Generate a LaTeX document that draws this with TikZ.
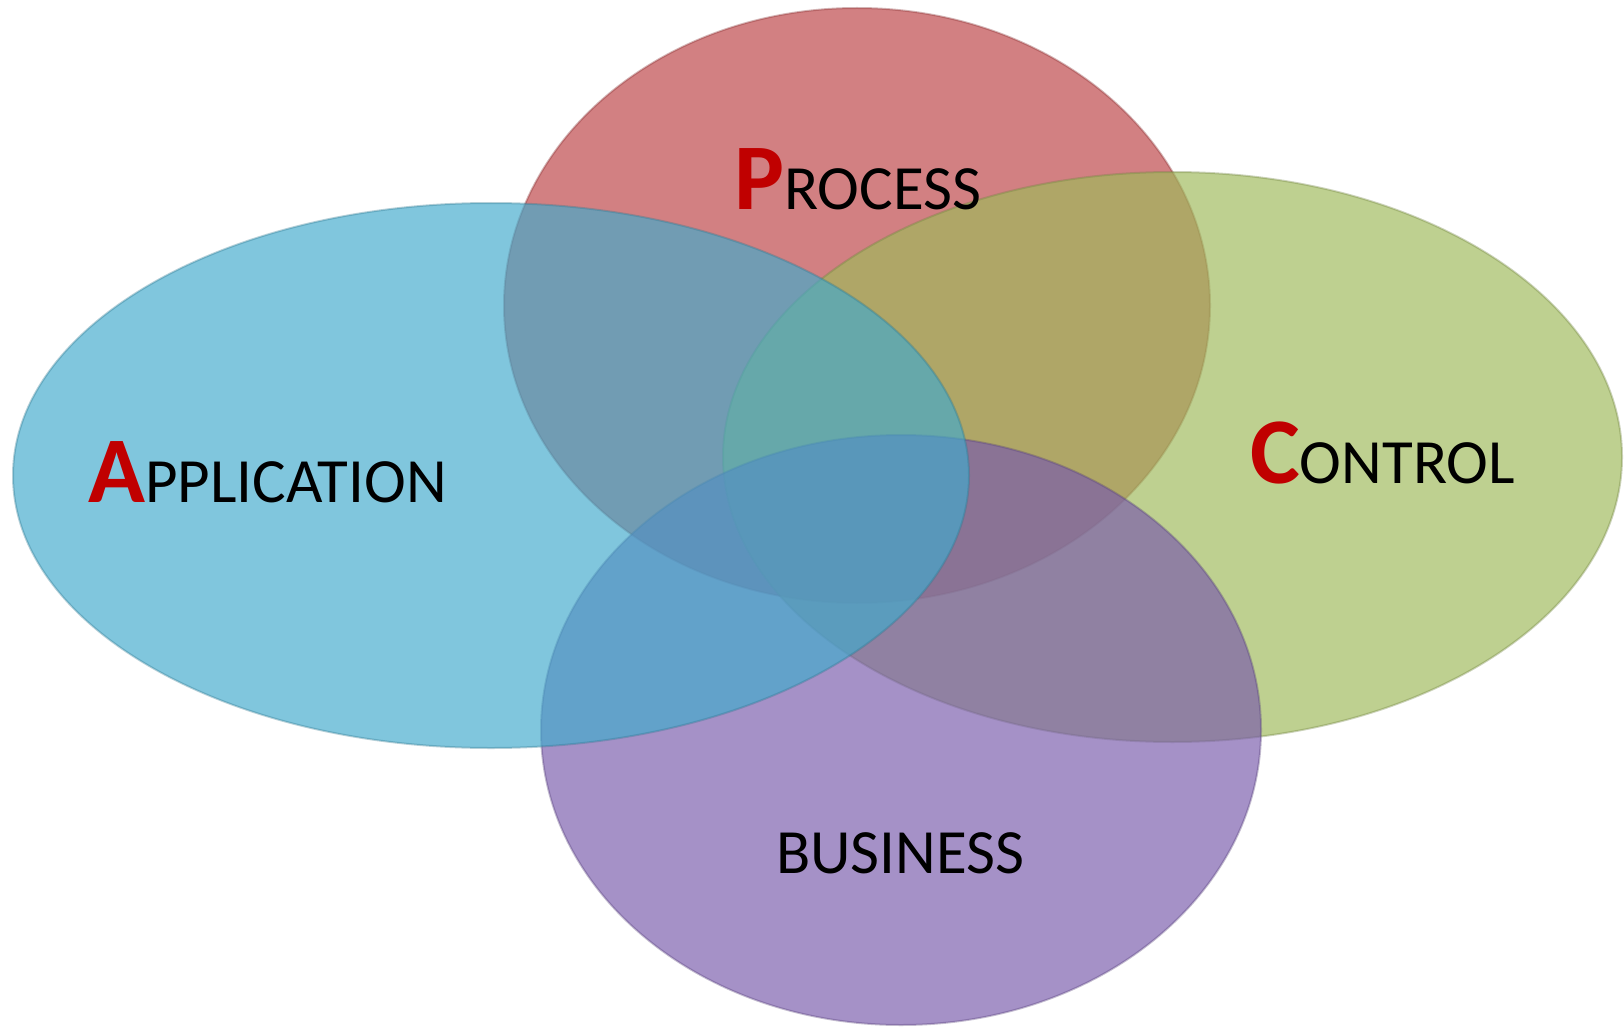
\documentclass[tikz,border=0pt]{standalone}
\usepackage{fontspec}
\setmainfont{Carlito}
\usetikzlibrary{shapes.geometric}

% fill colours of the four ellipses (seen through 67% opacity)
\definecolor{procfill}{RGB}{188,66,69}
\definecolor{ctrlfill}{RGB}{158,185,90}
\definecolor{busfill}{RGB}{121,91,172}
\definecolor{appfill}{RGB}{66,170,204}
\definecolor{capred}{RGB}{192,0,0}

\tikzset{
  blob/.style={ellipse, inner sep=0pt, fill opacity=0.67,
               draw opacity=0.35, line width=2pt},
  label/.style={anchor=base west, inner sep=0pt, text=black,
                font=\fontsize{63}{72}\selectfont},
}
\newcommand{\initialcap}[1]{{\fontsize{94}{100}\selectfont\bfseries\color{capred}#1}}

\begin{document}
\begin{tikzpicture}[x=1pt,y=-1pt]
  \useasboundingbox (0,0) rectangle (1624,1027);

  % ellipses, back to front
  \node[blob, fill=procfill, draw=procfill!70!black,
        minimum width=706pt, minimum height=595pt] (process) at (857,305.5) {};
  \node[blob, fill=ctrlfill, draw=ctrlfill!70!black,
        minimum width=899pt, minimum height=570pt] (control) at (1172.5,457) {};
  \node[blob, fill=busfill, draw=busfill!70!black,
        minimum width=720pt, minimum height=590pt] (business) at (901,730) {};
  \node[blob, fill=appfill, draw=appfill!70!black,
        minimum width=956pt, minimum height=545pt] (application) at (491,475.5) {};

  % titles
  \node[label] (tprocess) at (734,209) {\initialcap{P}ROCESS};
  \node[label] (tapplication) at (88,502) {\initialcap{A}PPLICATION};
  \node[label] (tcontrol) at (1250,483) {\initialcap{C}ONTROL};
  \node[label] (tbusiness) at (776,873) {BUSINESS};
\end{tikzpicture}
\end{document}
